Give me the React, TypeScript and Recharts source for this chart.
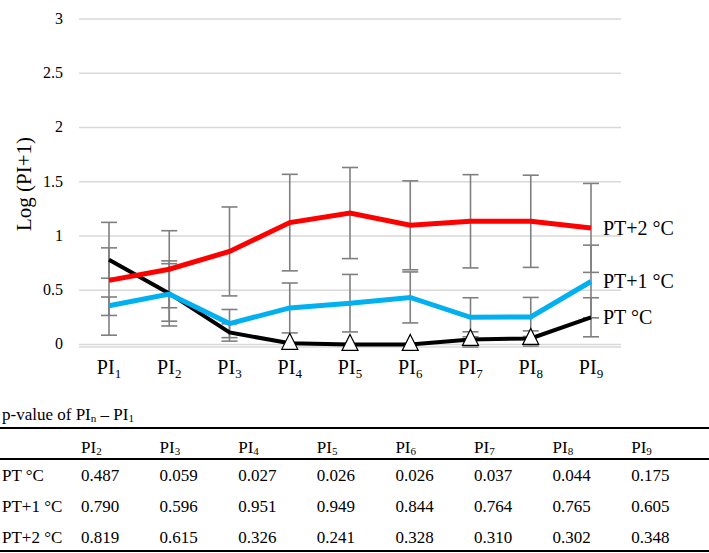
import { LineChart, Line, XAxis, YAxis, CartesianGrid, ErrorBar, LabelList } from 'recharts'

const FONT = "'Liberation Serif', 'Times New Roman', serif"

// PI1 .. PI9
const piIndex = ['1', '2', '3', '4', '5', '6', '7', '8', '9']
const yTicks = [0, 0.5, 1, 1.5, 2, 2.5, 3]

// Log (PI+1), means
const pt = [0.78, 0.47, 0.11, 0.01, 0.0, 0.0, 0.046, 0.055, 0.25]
const pt1 = [0.357, 0.464, 0.192, 0.336, 0.38, 0.433, 0.25, 0.253, 0.58]
const pt2 = [0.59, 0.693, 0.857, 1.123, 1.211, 1.098, 1.135, 1.135, 1.074]

// error bars: single value = symmetric, [down, up] otherwise
const ptErr = [[0.17, 0.11], 0.3, 0.08, 0, 0, 0, 0.07, 0.07, 0.18]
const pt1Err = [[0.09, 0.08], [0.25, 0.28], 0.13, 0.23, 0.265, 0.235, 0.18, 0.18, 0.335]
const pt2Err = [[0.505, 0.535], 0.355, 0.41, 0.445, 0.42, 0.41, 0.43, 0.425, 0.41]

// p-value table (PIn - PI1), n = 2..9
const pCols = ['2', '3', '4', '5', '6', '7', '8', '9']
const pRowNames = ['PT °C', 'PT+1 °C', 'PT+2 °C']
const pPt = ['0.487', '0.059', '0.027', '0.026', '0.026', '0.037', '0.044', '0.175']
const pPt1 = ['0.790', '0.596', '0.951', '0.949', '0.844', '0.764', '0.765', '0.605']
const pPt2 = ['0.819', '0.615', '0.326', '0.241', '0.328', '0.310', '0.302', '0.348']
const pRows = [pPt, pPt1, pPt2]

const data = piIndex.map((n, i) => ({
  name: n,
  pt: pt[i],
  ptErr: ptErr[i],
  pt1: pt1[i],
  pt1Err: pt1Err[i],
  pt2: pt2[i],
  pt2Err: pt2Err[i],
  sig: i > 0 && parseFloat(pPt[i - 1]) < 0.05,
}))

const BAR = '#7f7f7f'

function PiTick(props: any) {
  const { x, y, payload } = props
  return (
    <text x={x} y={y + 19} textAnchor="middle" fontFamily={FONT} fontSize={20} fill="#000">
      <tspan>PI</tspan>
      <tspan fontSize={13} dy={4}>{payload.value}</tspan>
    </text>
  )
}

function ValTick(props: any) {
  const { x, y, payload } = props
  return (
    <text x={x} y={y} dy={5} textAnchor="end" fontFamily={FONT} fontSize={16} fill="#000">
      {payload.value}
    </text>
  )
}

const endLabel = (text: string) => (props: any) => {
  if (props.index !== piIndex.length - 1) return null
  return (
    <text x={props.x + 12} y={props.y + 7} fontFamily={FONT} fontSize={20} fill="#000">
      {text}
    </text>
  )
}

function TriangleDot(props: any) {
  const { cx, cy, payload, index } = props
  if (!payload.sig) return <g key={index} />
  return (
    <path
      key={index}
      d={`M${cx},${cy - 10}L${cx + 8},${cy + 6}L${cx - 8},${cy + 6}Z`}
      fill="#fff"
      stroke="#000"
      strokeWidth={1.2}
    />
  )
}

function Sub({ n }: { n: string }) {
  return <span style={{ fontSize: '0.65em', verticalAlign: '-0.2em' }}>{n}</span>
}

export default function App() {
  const colX = (i: number) => 81 + i * 78.6
  const rowTops = [461, 492, 523]
  return (
    <div style={{ position: 'absolute', left: 0, top: 0, width: 709, height: 553, fontFamily: FONT, color: '#000', background: '#fff' }}>
      <LineChart width={709} height={390} data={data} margin={{ top: 19, right: 88, left: 0, bottom: 0 }}>
        <CartesianGrid vertical={false} stroke="#d9d9d9" strokeWidth={1.5} />
        <XAxis
          dataKey="name"
          axisLine={false}
          tickLine={false}
          height={43}
          interval={0}
          padding={{ left: 30, right: 30 }}
          tick={<PiTick />}
        />
        <YAxis
          domain={[0, 3]}
          ticks={yTicks}
          width={79}
          axisLine={false}
          tickLine={false}
          tickMargin={10}
          tick={<ValTick />}
          label={{
            content: () => (
              <text transform="translate(31,184) rotate(-90)" textAnchor="middle" fontFamily={FONT} fontSize={21} fill="#000">
                Log (PI+1)
              </text>
            ),
          }}
        />
        {/* error bars drawn under the lines */}
        <Line dataKey="pt" stroke="none" dot={false} activeDot={false} isAnimationActive={false}>
          <ErrorBar dataKey="ptErr" direction="y" width={8} stroke={BAR} strokeWidth={1.6} />
        </Line>
        <Line dataKey="pt1" stroke="none" dot={false} activeDot={false} isAnimationActive={false}>
          <ErrorBar dataKey="pt1Err" direction="y" width={8} stroke={BAR} strokeWidth={1.6} />
        </Line>
        <Line dataKey="pt2" stroke="none" dot={false} activeDot={false} isAnimationActive={false}>
          <ErrorBar dataKey="pt2Err" direction="y" width={8} stroke={BAR} strokeWidth={1.6} />
        </Line>
        <Line dataKey="pt" type="linear" stroke="#000" strokeWidth={4} dot={<TriangleDot />} activeDot={false} isAnimationActive={false}>
          <LabelList dataKey="pt" content={endLabel('PT °C')} />
        </Line>
        <Line dataKey="pt1" type="linear" stroke="#00b0f0" strokeWidth={5} dot={false} activeDot={false} isAnimationActive={false}>
          <LabelList dataKey="pt1" content={endLabel('PT+1 °C')} />
        </Line>
        <Line dataKey="pt2" type="linear" stroke="#ff0000" strokeWidth={5} dot={false} activeDot={false} isAnimationActive={false}>
          <LabelList dataKey="pt2" content={endLabel('PT+2 °C')} />
        </Line>
      </LineChart>

      {/* p-value table */}
      <div style={{ position: 'absolute', left: 2, top: 405, height: 20, lineHeight: '20px', fontSize: 17, whiteSpace: 'nowrap' }}>
        p-value of PI<Sub n="n" /> – PI<Sub n="1" />
      </div>
      <div style={{ position: 'absolute', left: 0, top: 427, width: 709, height: 2, background: '#000' }} />
      {pCols.map((c, i) => (
        <div key={c} style={{ position: 'absolute', left: colX(i), top: 433, height: 30, lineHeight: '30px', fontSize: 17 }}>
          PI<Sub n={c} />
        </div>
      ))}
      <div style={{ position: 'absolute', left: 0, top: 458, width: 709, height: 1.5, background: '#000' }} />
      {pRowNames.map((name, r) => (
        <div key={name}>
          <div style={{ position: 'absolute', left: 2, top: rowTops[r], height: 30, lineHeight: '30px', fontSize: 17, whiteSpace: 'nowrap' }}>
            {name}
          </div>
          {pRows[r].map((v, i) => (
            <div key={i} style={{ position: 'absolute', left: colX(i), top: rowTops[r], height: 30, lineHeight: '30px', fontSize: 17 }}>
              {v}
            </div>
          ))}
        </div>
      ))}
      <div style={{ position: 'absolute', left: 0, top: 550, width: 709, height: 2, background: '#000' }} />
    </div>
  )
}
